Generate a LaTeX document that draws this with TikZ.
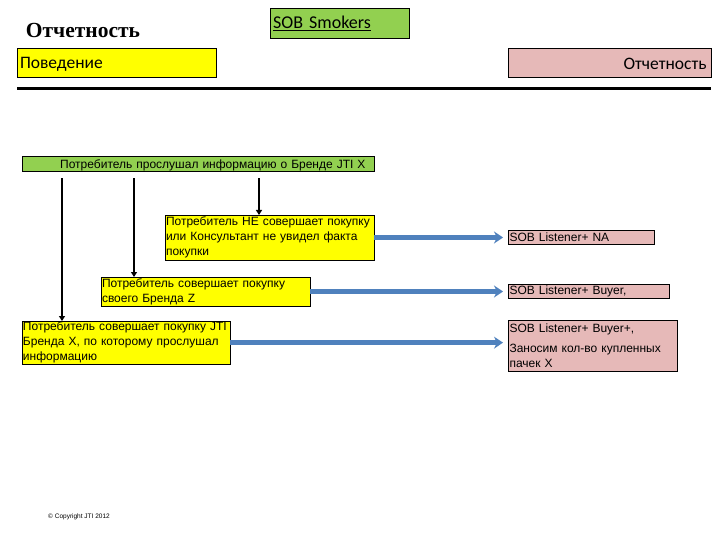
\documentclass[tikz,border=0pt]{standalone}
\usepackage{fontspec}
\setmainfont{Liberation Sans}
\newfontfamily\calib{Carlito}
\newfontfamily\titlefont{Liberation Serif}
\usetikzlibrary{arrows.meta, positioning, calc}

\definecolor{jtiyellow}{HTML}{FFFF00}
\definecolor{jtigreen}{HTML}{92D050}
\definecolor{jtipink}{HTML}{E6B9B8}
\definecolor{jtiblue}{HTML}{4F81BD}

\begin{document}
\begin{tikzpicture}[
  x=1pt, y=-1pt,
  every node/.style={font=\fontsize{12}{15}\selectfont},
  ybox/.style={draw, fill=jtiyellow, anchor=north west, align=left, inner sep=1pt, outer sep=0pt},
  pbox/.style={draw, fill=jtipink, anchor=north west, align=left, inner sep=1.5pt, outer sep=0pt},
  link/.style={-{Triangle[length=5pt, width=6pt]}, line width=1.5pt},
  flow/.style={-{Stealth[length=9pt, width=12pt]}, line width=5pt, jtiblue, shorten >=5pt}
]
\useasboundingbox[fill=white] (0,0) rectangle (720,540);

% header
\node[font=\titlefont\bfseries\fontsize{21.5}{24}\selectfont] (title) at (83,30) {Отчетность};
\node[draw, fill=jtigreen, anchor=north west, minimum width=139pt, minimum height=30pt,
      text width=133pt, align=left, inner sep=3pt, font=\calib\fontsize{18}{20}\selectfont] (smokers) at (270,8)
      {\underline{SOB Smokers}};
\node[ybox, minimum width=199pt, minimum height=29pt, text width=193pt, inner xsep=3pt,
      text height=13pt, text depth=0pt,
      font=\calib\fontsize{17.5}{20}\selectfont] (behave) at (17,48) {Поведение};
\node[pbox, minimum width=203pt, minimum height=29pt, text width=194pt, inner xsep=4.5pt, align=right,
      text height=13.5pt, text depth=0pt,
      font=\calib\fontsize{17.5}{20}\selectfont] (report) at (508,48) {Отчетность};
\coordinate (ruleL) at (17,89);
\coordinate (ruleR) at (711,89);
\draw[line width=3pt] (ruleL) -- (ruleR);

% source
\node[draw, fill=jtigreen, anchor=north west, minimum width=352pt, minimum height=15pt,
      text width=350pt, inner sep=0pt, align=left, text depth=0pt] (heard) at (22,156)
      {\hspace*{37pt}Потребитель прослушал информацию о Бренде JTI X};

% outcomes
\node[ybox, minimum width=209pt, minimum height=45pt, text width=207pt] (nobuy) at (165,215)
  {Потребитель НЕ совершает покупку\\или Консультант не увидел факта\\покупки};
\node[ybox, minimum width=209pt, minimum height=29pt, text width=207pt] (ownbuy) at (101,277)
  {Потребитель совершает покупку\\своего Бренда Z};
\node[ybox, minimum width=208pt, minimum height=42pt, text width=206pt] (jtibuy) at (22,321)
  {Потребитель совершает покупку JTI\\Бренда X, по которому прослушал\\информацию};

% results
\node[pbox, minimum width=146pt, minimum height=14pt, text width=143pt, inner ysep=0pt] (resNA) at (508,230)
  {SOB Listener+ NA};
\node[pbox, minimum width=161pt, minimum height=14pt, text width=158pt, inner ysep=0pt] (resB) at (508,284)
  {SOB Listener+ Buyer,};
\node[pbox, minimum width=169pt, minimum height=51pt, text width=166pt] (resBP) at (508,320)
  {SOB Listener+ Buyer+,\\[5pt]Заносим кол-во купленных\\пачек X};

% down links
\coordinate (xa) at (62,0);
\coordinate (xb) at (134,0);
\coordinate (xc) at (259,0);
\draw[link, shorten <=7pt] (heard.south -| xc) -- (nobuy.north -| xc);
\draw[link, shorten <=7pt] (heard.south -| xb) -- (ownbuy.north -| xb);
\draw[link, shorten <=7pt] (heard.south -| xa) -- (jtibuy.north -| xa);

% flows
\draw[flow] (nobuy.east) -- (nobuy.east -| resNA.west);
\draw[flow] (ownbuy.east) -- (ownbuy.east -| resB.west);
\draw[flow] (jtibuy.east) -- (jtibuy.east -| resBP.west);

\node[font=\fontsize{6.5}{7}\selectfont] (copy) at (79,517) {© Copyright JTI 2012};
\end{tikzpicture}
\end{document}
